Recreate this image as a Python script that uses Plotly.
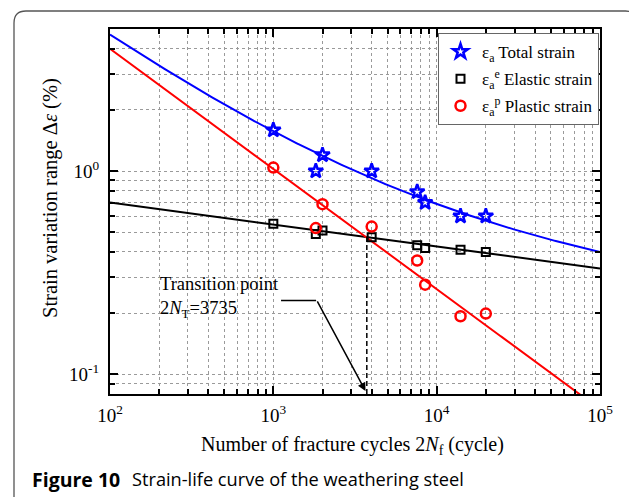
import numpy as np
import plotly.graph_objects as go

# ---------------- data ----------------
total_n = [1000, 1820, 2000, 4000, 7600, 8500, 14000, 20000]
total_eps = [1.59, 1.00, 1.20, 1.00, 0.79, 0.70, 0.60, 0.60]

elastic_n = [1000, 1820, 2000, 4000, 7600, 8500, 14000, 20000]
elastic_eps = [0.55, 0.49, 0.51, 0.473, 0.432, 0.418, 0.41, 0.40]

plastic_n = [1000, 1820, 2000, 4000, 7600, 8500, 14000, 20000]
plastic_eps = [1.04, 0.524, 0.687, 0.533, 0.363, 0.276, 0.193, 0.199]

# fitted Coffin-Manson / Basquin parameters
elastic_coef, elastic_exp = 1.151, -0.108
plastic_coef, plastic_exp = 60.7, -0.591
transition_n = 3735

x_tickvals = [1e2, 1e3, 1e4, 1e5]
x_ticktext = ["10<sup>2</sup>", "10<sup>3</sup>", "10<sup>4</sup>", "10<sup>5</sup>"]
y_tickvals = [0.1, 1.0]
y_ticktext = ["10<sup>-1</sup>", "10<sup>0</sup>"]

# annotation geometry (data units)
pointer_hline_n = [1115, 1828]
pointer_hline_eps = [0.231, 0.231]
pointer_tip = (3668, 0.0828)

# ---------------- derived curves ----------------
n_fit = np.logspace(2, 5, 300)
eps_e_fit = elastic_coef * n_fit ** elastic_exp
eps_p_fit = plastic_coef * n_fit ** plastic_exp
eps_t_fit = eps_e_fit + eps_p_fit
eps_at_transition = elastic_coef * transition_n ** elastic_exp

x_minor = [d * 10 ** k for k in (2, 3, 4) for d in range(2, 10)]
y_minor = [0.08, 0.09] + [d * 0.1 for d in range(2, 10)] + [2, 3, 4]

SERIF = "Liberation Serif, Times New Roman, serif"
SANS = "Open Sans, Noto Sans, sans-serif"
BLUE, RED, BLACK = "#0000ff", "#ff0000", "#000000"

fig = go.Figure()

# fitted lines
fig.add_trace(go.Scatter(x=n_fit, y=eps_t_fit, mode="lines",
                         line=dict(color=BLUE, width=2), showlegend=False, hoverinfo="skip"))
fig.add_trace(go.Scatter(x=n_fit, y=eps_e_fit, mode="lines",
                         line=dict(color=BLACK, width=2), showlegend=False, hoverinfo="skip"))
fig.add_trace(go.Scatter(x=n_fit, y=eps_p_fit, mode="lines",
                         line=dict(color=RED, width=2), showlegend=False, hoverinfo="skip"))

# transition dashed line
fig.add_trace(go.Scatter(x=[transition_n, transition_n], y=[0.08, eps_at_transition], mode="lines",
                         line=dict(color=BLACK, width=1.5, dash="5px,3px"),
                         showlegend=False, hoverinfo="skip"))
# pointer horizontal segment
fig.add_trace(go.Scatter(x=pointer_hline_n, y=pointer_hline_eps, mode="lines",
                         line=dict(color=BLACK, width=1.5), showlegend=False, hoverinfo="skip"))

# markers
fig.add_trace(go.Scatter(x=total_n, y=total_eps, mode="markers", legendgroup="t",
                         name="ε<sub>a</sub> Total strain",
                         marker=dict(symbol="star-open", size=11, color=BLUE, line=dict(color=BLUE, width=2.5))))
fig.add_trace(go.Scatter(x=elastic_n, y=elastic_eps, mode="markers", legendgroup="e",
                         name="ε<sub>a</sub><sup>e</sup> Elastic strain",
                         marker=dict(symbol="square-open", size=8, color=BLACK, line=dict(color=BLACK, width=2))))
fig.add_trace(go.Scatter(x=plastic_n, y=plastic_eps, mode="markers", legendgroup="p",
                         name="ε<sub>a</sub><sup>p</sup> Plastic strain",
                         marker=dict(symbol="circle-open", size=10, color=RED, line=dict(color=RED, width=2.5))))

axis_common = dict(
    type="log", showline=True, linecolor="black", linewidth=2, mirror="allticks",
    ticks="inside", ticklen=8, tickwidth=1.5, tickcolor="black",
    showgrid=True, gridcolor="#9a9a9a", gridwidth=1, griddash="dot",
    zeroline=False, tickfont=dict(family=SERIF, size=19, color="black"),
    tickmode="array",
)

fig.update_xaxes(**axis_common, range=[2, 5], tickvals=x_tickvals, ticktext=x_ticktext,
                 ticklabelstandoff=3,
                 minor=dict(tickmode="array", tickvals=x_minor, ticks="inside", ticklen=5,
                            tickcolor="black", tickwidth=1.5, showgrid=True,
                            gridcolor="#9a9a9a", gridwidth=1, griddash="dot"))
fig.update_yaxes(**axis_common, range=[np.log10(0.08), np.log10(5)], tickvals=y_tickvals,
                 ticktext=y_ticktext, ticklabelstandoff=5,
                 minor=dict(tickmode="array", tickvals=y_minor, ticks="inside", ticklen=5,
                            tickcolor="black", tickwidth=1.5, showgrid=True,
                            gridcolor="#9a9a9a", gridwidth=1, griddash="dot"))

# page has an 8px body margin: the figure is drawn at (8, 8)
OFF = 8
W, H = 637 - OFF, 497 - OFF
PL, PR, PT, PB = 110, 600, 29, 394          # plot-area edges in page pixels
L, R, T, B = PL - OFF, OFF + W - PR, PT - OFF, OFF + H - PB
pw, ph = PR - PL, PB - PT


def px_x(px):
    return (px - PL) / pw


def px_y(py):
    return (PB - py) / ph


# outer rounded frame
x0, x1 = px_x(14), px_x(637.5)
y1, y0 = px_y(11), px_y(520)
rx, ry = 12 / pw, 12 / ph
frame_path = (f"M {x0},{y0} L {x0},{y1 - ry} Q {x0},{y1} {x0 + rx},{y1} "
              f"L {x1 - rx},{y1} Q {x1},{y1} {x1},{y1 - ry} L {x1},{y0}")

fig.update_layout(
    width=W, height=H,
    margin=dict(l=L, r=R, t=T, b=B),
    paper_bgcolor="white", plot_bgcolor="white",
    font=dict(family=SERIF, size=16, color="black"),
    legend=dict(x=px_x(438), y=px_y(33), xanchor="left", yanchor="top",
                bgcolor="white", bordercolor="#666666", borderwidth=1,
                font=dict(family=SERIF, size=17, color="black"),
                itemwidth=33, tracegroupgap=2),
    shapes=[dict(type="path", path=frame_path, xref="paper", yref="paper",
                 line=dict(color="#555555", width=1.3))],
    annotations=[
        dict(text="Number of fracture cycles 2<i>N</i><sub>f</sub> (cycle)",
             xref="paper", yref="paper", x=px_x(352), y=px_y(445),
             xanchor="center", yanchor="middle", showarrow=False,
             font=dict(family=SERIF, size=20, color="black")),
        dict(text="Strain variation range Δ<i>ε</i> (%)",
             xref="paper", yref="paper", x=px_x(50), y=px_y(198), textangle=-90,
             xanchor="center", yanchor="middle", showarrow=False,
             font=dict(family=SERIF, size=20.5, color="black")),
        dict(text="Transition point<br>2<i>N</i><sub>T</sub>=3735",
             xref="paper", yref="paper", x=px_x(158), y=px_y(297),
             xanchor="left", yanchor="middle", align="left", showarrow=False,
             font=dict(family=SERIF, size=18.5, color="black")),
        dict(text="", xref="x", yref="y",
             x=np.log10(pointer_tip[0]), y=np.log10(pointer_tip[1]),
             ax=-49, ay=-91, showarrow=True, arrowhead=2, arrowsize=1.1,
             arrowwidth=1.5, arrowcolor="black"),
        dict(text="<b>Figure 10</b>",
             xref="paper", yref="paper", x=px_x(30), y=px_y(479),
             xanchor="left", yanchor="middle", showarrow=False,
             font=dict(family=SANS, size=19.5, color="black")),
        dict(text="Strain-life curve of the weathering steel",
             xref="paper", yref="paper", x=px_x(130), y=px_y(479),
             xanchor="left", yanchor="middle", showarrow=False,
             font=dict(family=SANS, size=18.2, color="black")),
    ],
)

fig.write_html("out.html")
